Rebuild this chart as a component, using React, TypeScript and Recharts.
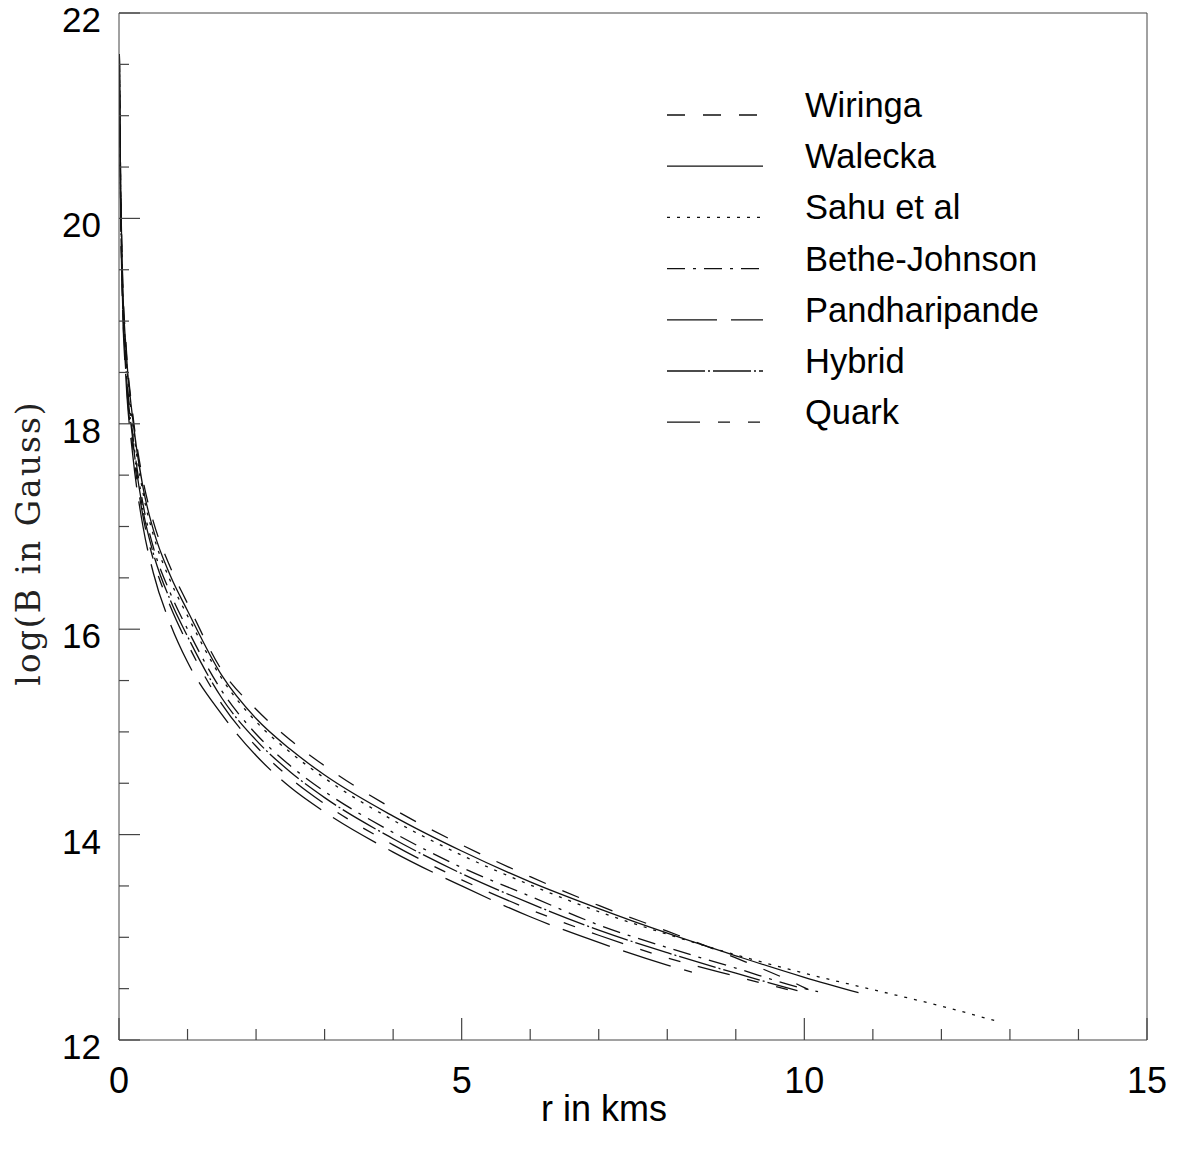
import { LineChart, Line, XAxis, YAxis, Legend } from 'recharts';

// axis ticks
const xTicks = [0, 1, 2, 3, 4, 5, 6, 7, 8, 9, 10, 11, 12, 13, 14, 15];
const xMajor = [0, 5, 10, 15];
const yTicks = [12, 12.5, 13, 13.5, 14, 14.5, 15, 15.5, 16, 16.5, 17, 17.5, 18, 18.5, 19, 19.5, 20, 20.5, 21, 21.5, 22];
const yMajor = [12, 14, 16, 18, 20, 22];

// legend entries
const seriesNames = ['Wiringa', 'Walecka', 'Sahu et al', 'Bethe-Johnson', 'Pandharipande', 'Hybrid', 'Quark'];
const seriesDashes = ['18 18', '', '3 7', '18 8 3 8', '50 14', '38 3 2 3', '33 18 12 18 12 18'];

// [r in kms, log B]
const wiringa = [
  [0.005, 21.6], [0.02, 20.6], [0.05, 19.5], [0.1, 18.8], [0.2, 18.1], [0.35, 17.45], [0.5, 17.05],
  [0.75, 16.6], [1, 16.25], [1.5, 15.6], [2, 15.22], [2.5, 14.92], [3, 14.67], [4, 14.25], [5, 13.9],
  [6, 13.59], [7, 13.31], [8, 13.06], [9, 12.8], [10, 12.51], [10.06, 12.49],
];
const walecka = [
  [0.005, 21.6], [0.02, 20.55], [0.05, 19.45], [0.1, 18.75], [0.2, 18.05], [0.35, 17.38], [0.5, 16.97],
  [0.75, 16.52], [1, 16.18], [1.5, 15.55], [2, 15.13], [2.5, 14.83], [3, 14.58], [4, 14.18], [5, 13.84],
  [6, 13.54], [7, 13.28], [8, 13.04], [9, 12.82], [10, 12.61], [10.79, 12.46],
];
const sahu = [
  [0.005, 21.6], [0.02, 20.5], [0.05, 19.4], [0.1, 18.7], [0.2, 18.0], [0.35, 17.33], [0.5, 16.92],
  [0.75, 16.47], [1, 16.13], [1.5, 15.52], [2, 15.1], [2.5, 14.8], [3, 14.55], [4, 14.14], [5, 13.8],
  [6, 13.51], [7, 13.25], [8, 13.03], [9, 12.83], [10, 12.65], [11, 12.49], [12, 12.33], [12.77, 12.19],
];
const betheJohnson = [
  [0.005, 21.6], [0.02, 20.45], [0.05, 19.35], [0.1, 18.62], [0.2, 17.9], [0.35, 17.22], [0.5, 16.8],
  [0.75, 16.35], [1, 16.0], [1.5, 15.4], [2, 14.98], [2.5, 14.67], [3, 14.42], [4, 14.02], [5, 13.68],
  [6, 13.4], [7, 13.12], [8, 12.9], [9, 12.7], [10, 12.5], [10.2, 12.47],
];
const pandharipande = [
  [0.005, 21.6], [0.02, 20.3], [0.05, 19.2], [0.1, 18.45], [0.2, 17.7], [0.35, 17.0], [0.5, 16.55],
  [0.75, 16.05], [1, 15.68], [1.5, 15.17], [2, 14.77], [2.5, 14.46], [3, 14.22], [4, 13.83], [5, 13.5],
  [6, 13.2], [7, 12.95], [8, 12.73], [8.36, 12.66],
];
const hybrid = [
  [0.005, 21.6], [0.02, 20.4], [0.05, 19.3], [0.1, 18.57], [0.2, 17.85], [0.35, 17.16], [0.5, 16.74],
  [0.75, 16.28], [1, 15.93], [1.5, 15.33], [2, 14.92], [2.5, 14.61], [3, 14.36], [4, 13.96], [5, 13.62],
  [6, 13.33], [7, 13.07], [8, 12.85], [9, 12.65], [9.9, 12.48],
];
const quark = [
  [0.005, 21.6], [0.02, 20.35], [0.05, 19.25], [0.1, 18.5], [0.2, 17.78], [0.35, 17.1], [0.5, 16.68],
  [0.75, 16.22], [1, 15.86], [1.5, 15.27], [2, 14.86], [2.5, 14.55], [3, 14.3], [4, 13.9], [5, 13.56],
  [6, 13.27], [7, 13.02], [8, 12.8], [9, 12.62], [10, 12.45],
];

const seriesData = [wiringa, walecka, sahu, betheJohnson, pandharipande, hybrid, quark];

const toPoints = (pts: number[][]) => pts.map(([r, b]) => ({ r, b }));

const axisColor = '#444';
const sans = '"Liberation Sans", Arial, sans-serif';

const BottomTick = ({ x, y, payload }: any) => {
  const major = xMajor.includes(payload.value);
  return (
    <g>
      <line x1={x} x2={x} y1={y} y2={y - (major ? 22 : 11)} stroke={axisColor} strokeWidth={1.2} />
      {major && (
        <text x={x} y={y + 53} textAnchor="middle" fontSize={36} fontFamily={sans} fill="#000">
          {payload.value}
        </text>
      )}
    </g>
  );
};

const TopTick = ({ x, y, payload }: any) => {
  const major = xMajor.includes(payload.value);
  return <line x1={x} x2={x} y1={y} y2={y + (major ? 22 : 11)} stroke={axisColor} strokeWidth={1.2} />;
};

const LeftTick = ({ x, y, payload }: any) => {
  const major = yMajor.includes(payload.value);
  return (
    <g>
      <line x1={x} x2={x + (major ? 21 : 10)} y1={y} y2={y} stroke={axisColor} strokeWidth={1.2} />
      {major && (
        <text x={x - 18} y={y + 19} textAnchor="end" fontSize={35} fontFamily={sans} fill="#000">
          {payload.value}
        </text>
      )}
    </g>
  );
};

const RightTick = ({ x, y, payload }: any) => {
  const major = yMajor.includes(payload.value);
  return <line x1={x} x2={x - (major ? 21 : 10)} y1={y} y2={y} stroke={axisColor} strokeWidth={1.2} />;
};

const LegendBox = () => (
  <svg width={440} height={380}>
    {seriesNames.map((name, i) => (
      <g key={name}>
        <line
          x1={12}
          x2={108}
          y1={35 + i * 51.2}
          y2={35 + i * 51.2}
          stroke="#111"
          strokeWidth={1.3}
          strokeDasharray={seriesDashes[i] || undefined}
        />
        <text x={150} y={37 + i * 51.2} fontSize={34.5} fontFamily={sans} fill="#000">
          {name}
        </text>
      </g>
    ))}
  </svg>
);

// chart starts at the top of the page (body margin pulled back) so the "22" label is not clipped
export default function App() {
  return (
    <div style={{ width: 1165, height: 1150, marginTop: -8 }}>
      <LineChart width={1165} height={1150} margin={{ top: 12, right: 25, left: 0, bottom: 0 }}>
        <XAxis
          xAxisId={0}
          dataKey="r"
          type="number"
          domain={[0, 15]}
          ticks={xTicks}
          interval={0}
          allowDataOverflow
          height={110}
          tickSize={0}
          tickMargin={0}
          tick={<BottomTick />}
          stroke={axisColor}
        />
        <XAxis
          xAxisId="top"
          orientation="top"
          dataKey="r"
          type="number"
          domain={[0, 15]}
          ticks={xTicks}
          interval={0}
          height={1}
          tickSize={0}
          tickMargin={0}
          tick={<TopTick />}
          stroke={axisColor}
        />
        <YAxis
          yAxisId={0}
          type="number"
          domain={[12, 22]}
          ticks={yTicks}
          interval={0}
          allowDataOverflow
          width={111}
          tickSize={0}
          tickMargin={0}
          tick={<LeftTick />}
          stroke={axisColor}
        />
        <YAxis
          yAxisId="right"
          orientation="right"
          type="number"
          domain={[12, 22]}
          ticks={yTicks}
          interval={0}
          width={1}
          tickSize={0}
          tickMargin={0}
          tick={<RightTick />}
          stroke={axisColor}
        />
        <Legend
          layout="vertical"
          align="center"
          verticalAlign="middle"
          content={<LegendBox />}
          wrapperStyle={{ left: 647, top: 80, width: 440, height: 380 }}
        />
        {seriesData.map((pts, i) => (
          <Line
            key={seriesNames[i]}
            name={seriesNames[i]}
            data={toPoints(pts)}
            dataKey="b"
            type="monotone"
            stroke="#111"
            strokeWidth={1.3}
            strokeDasharray={seriesDashes[i] || undefined}
            dot={false}
            activeDot={false}
            isAnimationActive={false}
          />
        ))}
        <text x={596} y={1121} textAnchor="middle" fontSize={36} fontFamily={sans} fill="#000">
          r in kms
        </text>
        <text
          x={20}
          y={543}
          transform="rotate(-90 20 543)"
          textAnchor="middle"
          dominantBaseline="central"
          fontSize={33}
          letterSpacing={2}
          fontFamily='"DejaVu Serif", serif'
          fill="#222"
        >
          log(B in Gauss)
        </text>
      </LineChart>
    </div>
  );
}
